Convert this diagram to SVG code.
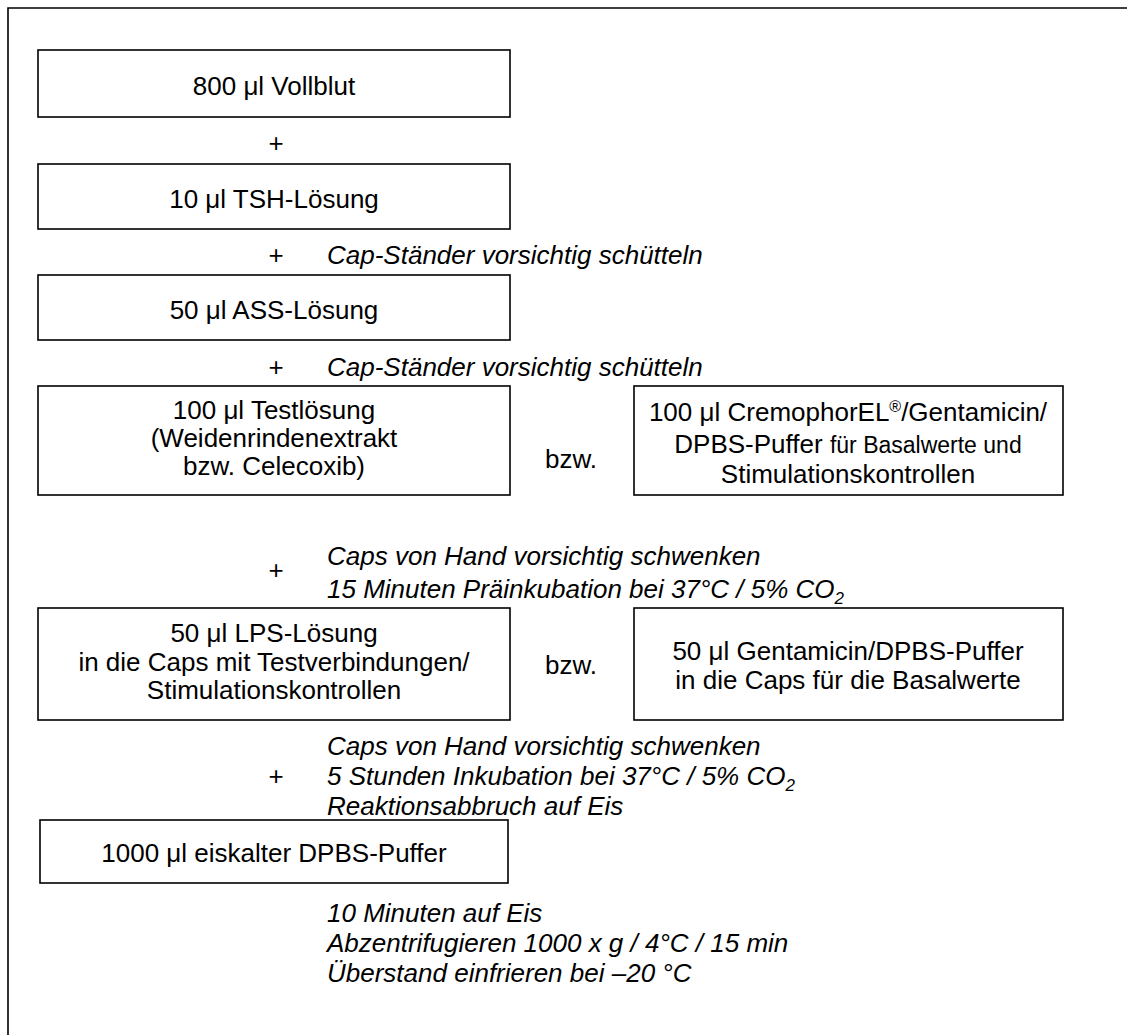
<svg xmlns="http://www.w3.org/2000/svg" width="1127" height="1035" viewBox="0 0 1127 1035">
  <style>
    .frame { fill: none; stroke: #000; stroke-width: 1.6; }
    .box { fill: #fff; stroke: #000; stroke-width: 1.6; }
    text { font-family: "Liberation Sans", Arial, sans-serif; font-size: 26px; fill: #000; }
    .c { text-anchor: middle; }
    .i { font-style: italic; }
    .sm { font-size: 23px; }
    .sub { font-size: 17px; }
    .sup { font-size: 16px; }
  </style>
  <rect width="1127" height="1035" fill="#fff"/>
  <!-- outer frame, open to the right and bottom -->
  <path class="frame" d="M8,1035 V8 H1127"/>

  <g id="vollblut">
    <rect class="box" x="38" y="50" width="472" height="67"/>
    <text class="c" x="274" y="95">800 μl Vollblut</text>
  </g>

  <g id="tsh">
    <rect class="box" x="38" y="164" width="472" height="65"/>
    <text class="c" x="274" y="208">10 μl TSH-Lösung</text>
  </g>

  <g id="ass">
    <rect class="box" x="38" y="275" width="472" height="65"/>
    <text class="c" x="274" y="319">50 μl ASS-Lösung</text>
  </g>

  <g id="testloesung">
    <rect class="box" x="38" y="386" width="472" height="109"/>
    <text class="c" x="274" y="419">100 μl Testlösung</text>
    <text class="c" x="274" y="447">(Weidenrindenextrakt</text>
    <text class="c" x="274" y="475">bzw. Celecoxib)</text>
  </g>

  <g id="cremophor">
    <rect class="box" x="634" y="386" width="429" height="109"/>
    <text class="c" x="848" y="421">100 μl CremophorEL<tspan class="sup" dy="-9">®</tspan><tspan dy="9">/Gentamicin/</tspan></text>
    <text class="c" x="848" y="453">DPBS-Puffer <tspan class="sm">für Basalwerte und</tspan></text>
    <text class="c" x="848" y="483">Stimulationskontrollen</text>
  </g>

  <g id="lps">
    <rect class="box" x="38" y="608" width="472" height="112"/>
    <text class="c" x="274" y="642">50 μl LPS-Lösung</text>
    <text class="c" x="274" y="671">in die Caps mit Testverbindungen/</text>
    <text class="c" x="274" y="699">Stimulationskontrollen</text>
  </g>

  <g id="gentamicin">
    <rect class="box" x="634" y="608" width="429" height="112"/>
    <text class="c" x="848" y="660">50 μl Gentamicin/DPBS-Puffer</text>
    <text class="c" x="848" y="689">in die Caps für die Basalwerte</text>
  </g>

  <g id="dpbs">
    <rect class="box" x="40" y="820" width="468" height="63"/>
    <text class="c" x="274" y="862">1000 μl eiskalter DPBS-Puffer</text>
  </g>

  <!-- step annotations between the boxes -->
  <g id="connectors">
    <text class="c" x="276" y="152">+</text>
    <text class="c" x="276" y="264">+</text>
    <text class="i" x="327" y="264">Cap-Ständer vorsichtig schütteln</text>
    <text class="c" x="276" y="376">+</text>
    <text class="i" x="327" y="376">Cap-Ständer vorsichtig schütteln</text>
    <text class="c" x="571" y="468">bzw.</text>
    <text class="c" x="276" y="579">+</text>
    <text class="i" x="327" y="565">Caps von Hand vorsichtig schwenken</text>
    <text class="i" x="327" y="598">15 Minuten Präinkubation bei 37°C / 5% CO<tspan class="sub" dy="6">2</tspan></text>
    <text class="c" x="571" y="674">bzw.</text>
    <text class="i" x="327" y="755">Caps von Hand vorsichtig schwenken</text>
    <text class="c" x="276" y="785">+</text>
    <text class="i" x="327" y="785">5 Stunden Inkubation bei 37°C / 5% CO<tspan class="sub" dy="6">2</tspan></text>
    <text class="i" x="327" y="815">Reaktionsabbruch auf Eis</text>
    <text class="i" x="327" y="922">10 Minuten auf Eis</text>
    <text class="i" x="327" y="952">Abzentrifugieren 1000 x g / 4°C / 15 min</text>
    <text class="i" x="327" y="982">Überstand einfrieren bei –20 °C</text>
  </g>
</svg>
